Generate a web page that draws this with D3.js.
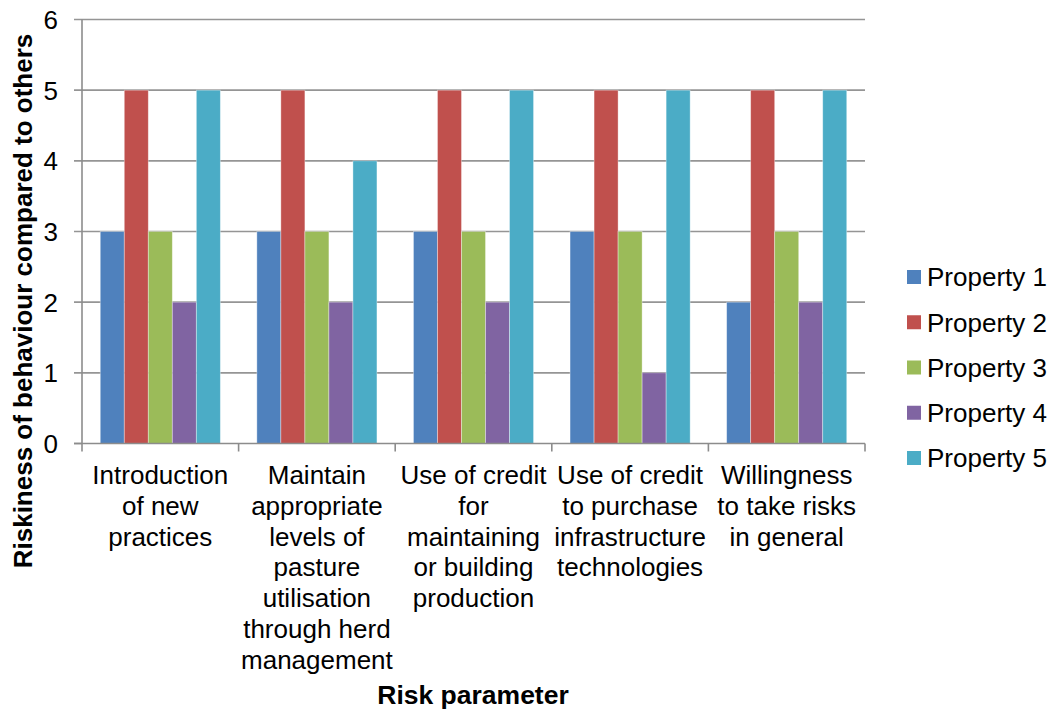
<!DOCTYPE html>
<html>
<head>
<meta charset="utf-8">
<script src="https://cdn.jsdelivr.net/npm/d3@7"></script>
<style>
  html, body { margin: 0; padding: 0; background: #fff; }
  svg text { font-family: "Liberation Sans", Arial, sans-serif; fill: #000; }
</style>
</head>
<body>
<svg id="chart" width="1053" height="713"></svg>
<script>
// Risk parameters (x categories), each label split into its wrapped lines
const categories = [
  ["Introduction", "of new", "practices"],
  ["Maintain", "appropriate", "levels of", "pasture", "utilisation", "through herd", "management"],
  ["Use of credit", "for", "maintaining", "or building", "production"],
  ["Use of credit", "to purchase", "infrastructure", "technologies"],
  ["Willingness", "to take risks", "in general"]
];
const seriesNames = ["Property 1", "Property 2", "Property 3", "Property 4", "Property 5"];
const property1 = [3, 3, 3, 3, 2];
const property2 = [5, 5, 5, 5, 5];
const property3 = [3, 3, 3, 3, 3];
const property4 = [2, 2, 2, 1, 2];
const property5 = [5, 4, 5, 5, 5];
const seriesValues = [property1, property2, property3, property4, property5];
const yTicks = [0, 1, 2, 3, 4, 5, 6];
const colors = ["#4F81BD", "#C0504D", "#9BBB59", "#8064A2", "#4BACC6"];

const svg = d3.select("#chart");
const plot = { left: 82, right: 865, top: 19.5, bottom: 443.5 };
const FONT = 26;

const x0 = d3.scaleBand()
  .domain(d3.range(categories.length))
  .range([plot.left, plot.right])
  .paddingInner(0)
  .paddingOuter(0);

const x1 = d3.scaleBand()
  .domain(d3.range(seriesNames.length))
  .range([0, x0.bandwidth()])
  .paddingInner(0)
  .paddingOuter(0.76);

const y = d3.scaleLinear().domain([0, 6]).range([plot.bottom, plot.top]);

// horizontal gridlines with left tick marks
const grid = svg.append("g");
yTicks.forEach(t => {
  grid.append("line")
    .attr("x1", plot.left - 8).attr("x2", t === 0 ? plot.left : plot.right)
    .attr("y1", y(t)).attr("y2", y(t))
    .attr("stroke", "#959595").attr("stroke-width", 1.6);
});

// y tick labels
svg.append("g").selectAll("text")
  .data(yTicks).join("text")
  .attr("x", 58).attr("y", d => y(d))
  .attr("dy", "0.36em")
  .attr("text-anchor", "end")
  .attr("font-size", FONT)
  .text(d => d);

// bars
const groups = svg.append("g").selectAll("g")
  .data(categories.map((c, i) => i)).join("g")
  .attr("transform", i => `translate(${x0(i)},0)`);

groups.selectAll("rect")
  .data(i => seriesValues.map((vals, s) => ({ s, v: vals[i] })))
  .join("rect")
  .attr("x", d => x1(d.s))
  .attr("width", x1.bandwidth())
  .attr("y", d => y(d.v))
  .attr("height", d => y(0) - y(d.v))
  .attr("fill", d => colors[d.s])
  .attr("stroke", "#ffffff")
  .attr("stroke-opacity", 0.45)
  .attr("stroke-width", 0.8);

// axes lines
svg.append("line")
  .attr("x1", plot.left).attr("x2", plot.left)
  .attr("y1", plot.top).attr("y2", plot.bottom)
  .attr("stroke", "#8c8c8c").attr("stroke-width", 1.6);
svg.append("line")
  .attr("x1", plot.left - 8).attr("x2", plot.right)
  .attr("y1", plot.bottom).attr("y2", plot.bottom)
  .attr("stroke", "#8c8c8c").attr("stroke-width", 1.6);

// category boundary tick marks
const bounds = d3.range(categories.length + 1).map(i => plot.left + i * x0.bandwidth());
svg.append("g").selectAll("line")
  .data(bounds).join("line")
  .attr("x1", d => d).attr("x2", d => d)
  .attr("y1", plot.bottom).attr("y2", plot.bottom + 8)
  .attr("stroke", "#8c8c8c").attr("stroke-width", 1.6);

// category labels
const catLabels = svg.append("g").selectAll("text")
  .data(categories).join("text")
  .attr("text-anchor", "middle")
  .attr("font-size", FONT)
  .attr("y", 484);
catLabels.each(function(lines, i) {
  const cx = x0(i) + x0.bandwidth() / 2;
  d3.select(this).selectAll("tspan")
    .data(lines).join("tspan")
    .attr("x", cx)
    .attr("dy", (d, k) => k === 0 ? 0 : 30.8)
    .text(d => d);
});

// axis titles
svg.append("text")
  .attr("x", 473).attr("y", 704)
  .attr("text-anchor", "middle")
  .attr("font-size", 26.5).attr("font-weight", "bold")
  .text("Risk parameter");

svg.append("text")
  .attr("transform", "translate(32,301) rotate(-90)")
  .attr("text-anchor", "middle")
  .attr("font-size", 26).attr("font-weight", "bold")
  .text("Riskiness of behaviour compared to others");

// legend
const legend = svg.append("g").selectAll("g")
  .data(seriesNames).join("g")
  .attr("transform", (d, i) => `translate(907,${277 + i * 45.25})`);
legend.append("rect")
  .attr("x", 0).attr("y", -7).attr("width", 14).attr("height", 14)
  .attr("fill", (d, i) => colors[i]);
legend.append("text")
  .attr("x", 20).attr("y", 0).attr("dy", "0.36em")
  .attr("font-size", FONT)
  .text(d => d);
</script>
</body>
</html>
